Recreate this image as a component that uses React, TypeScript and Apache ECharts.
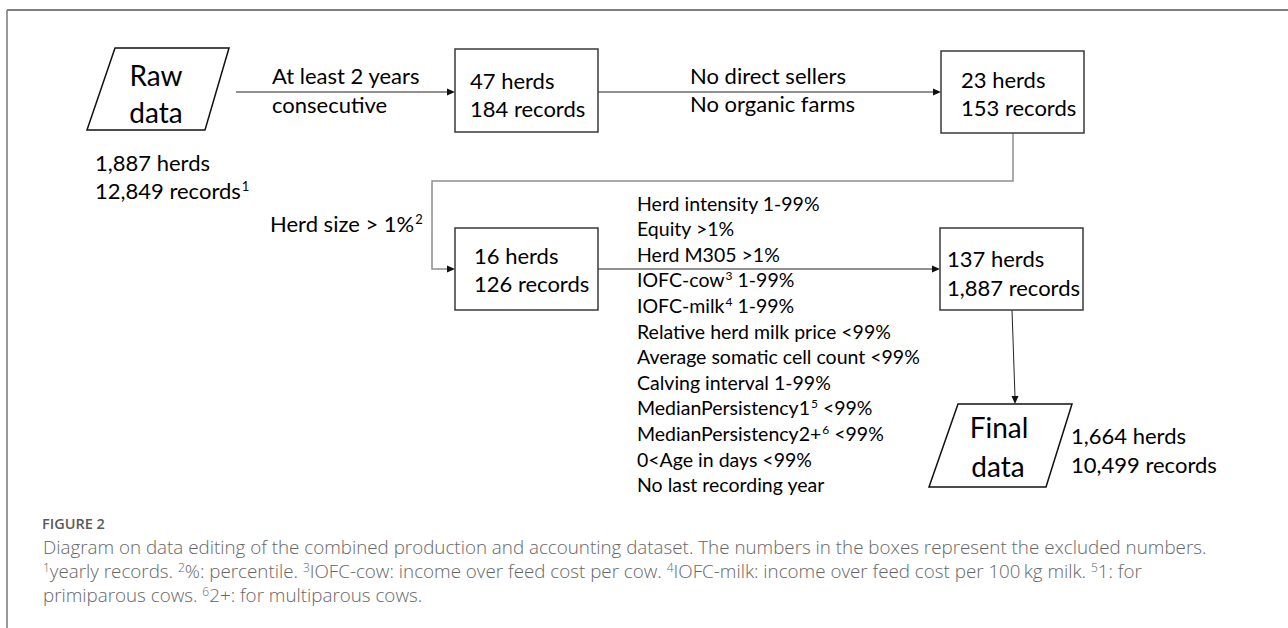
import React, { useEffect, useRef } from "react";
import * as echarts from "echarts";

// ---------- content (data) ----------
const startNode = ["Raw", "data"];
const startCounts = ["1,887 herds", "12,849 records{sup|1}"];
const endNode = ["Final", "data"];
const endCounts = ["1,664 herds", "10,499 records"];
const excludedBoxes = [
  ["47 herds", "184 records"],
  ["23 herds", "153 records"],
  ["16 herds", "126 records"],
  ["137 herds", "1,887 records"],
];
const stepLabels = [
  ["At least 2 years", "consecutive"],
  ["No direct sellers", "No organic farms"],
  ["Herd size > 1%{sup|2}"],
];
const criteria = [
  "Herd intensity 1-99%",
  "Equity >1%",
  "Herd M305 >1%",
  "IOFC-cow{sup|3} 1-99%",
  "IOFC-milk{sup|4} 1-99%",
  "Relative herd milk price <99%",
  "Average somatic cell count <99%",
  "Calving interval 1-99%",
  "MedianPersistency1{sup|5} <99%",
  "MedianPersistency2+{sup|6} <99%",
  "0<Age in days <99%",
  "No last recording year",
];
const captionTitle = "FIGURE 2";
const captionLines = [
  "Diagram on data editing of the combined production and accounting dataset. The numbers in the boxes represent the excluded numbers.",
  "{s|1}yearly records. {s|2}%: percentile. {s|3}IOFC-cow: income over feed cost per cow. {s|4}IOFC-milk: income over feed cost per 100\u2009kg milk. {s|5}1: for",
  "primiparous cows. {s|6}2+: for multiparous cows.",
];

// ---------- layout ----------
const FONT = "Lato, 'Noto Sans', sans-serif";
const CAP_FONT = "'Open Sans', 'Noto Sans', sans-serif";
const boxRects = [
  { x: 455, y: 49, w: 143, h: 83, tx: 470 },
  { x: 941, y: 51, w: 143, h: 82, tx: 961 },
  { x: 455, y: 228, w: 143, h: 82, tx: 474 },
  { x: 940, y: 228, w: 143, h: 82, tx: 947 },
];
const boxTextY = [
  [80, 108],
  [79, 107],
  [255, 283],
  [258, 287],
];
const stepPos = [
  { x: 272, y: [75, 104] },
  { x: 690, y: [75, 103] },
  { x: 270, y: [223] },
];

const supRich = {
  sup: { fontSize: 13, fontFamily: FONT, fill: "#000", verticalAlign: "top" as const, padding: [0, 0, 0, 1] },
};

function txt(text: string, x: number, y: number, size: number, align = "left", extra: any = {}) {
  return {
    type: "text",
    x,
    y,
    style: {
      text,
      fontSize: size,
      fontFamily: FONT,
      fill: "#000",
      align,
      verticalAlign: "middle",
      rich: supRich,
      ...extra,
    },
  };
}

function arrowHead(x: number, y: number, dir: "right" | "down") {
  const L = 8,
    W = 3.5;
  const pts =
    dir === "right"
      ? [
          [x, y],
          [x - L, y - W],
          [x - L, y + W],
        ]
      : [
          [x, y],
          [x - W, y - L],
          [x + W, y - L],
        ];
  return { type: "polygon", shape: { points: pts }, style: { fill: "#111" } };
}

function line(x1: number, y1: number, x2: number, y2: number, stroke = "#222", lw = 1) {
  return { type: "line", shape: { x1, y1, x2, y2 }, style: { stroke, lineWidth: lw } };
}

export default function App() {
  const ref = useRef<HTMLDivElement>(null);
  useEffect(() => {
    document.body.style.margin = "0";
    if (!ref.current) return;
    const chart = echarts.init(ref.current, undefined, { renderer: "svg" });
    const els: any[] = [];

    // outer frame (top & left)
    els.push(line(7, 10, 1288, 10, "#555", 1.5));
    els.push(line(7, 10, 7, 628, "#777", 1.5));

    // start parallelogram
    els.push({
      type: "polygon",
      shape: { points: [[115, 48], [229, 48], [205, 130], [87, 130]] },
      style: { fill: "#fff", stroke: "#111", lineWidth: 1.5 },
    });
    els.push(txt(startNode[0], 156, 75, 28, "center"));
    els.push(txt(startNode[1], 156, 112, 28, "center"));
    els.push(txt(startCounts[0], 95, 162, 22));
    els.push(txt(startCounts[1], 95, 190, 22));

    // end parallelogram
    els.push({
      type: "polygon",
      shape: { points: [[958, 404], [1072, 404], [1046, 487], [929, 487]] },
      style: { fill: "#fff", stroke: "#111", lineWidth: 1.5 },
    });
    els.push(txt(endNode[0], 999, 427, 28, "center"));
    els.push(txt(endNode[1], 998, 466, 28, "center"));
    els.push(txt(endCounts[0], 1071, 435, 22));
    els.push(txt(endCounts[1], 1071, 464, 22));

    // arrows
    els.push(line(236, 92, 450, 92));
    els.push(arrowHead(455, 92, "right"));
    els.push(line(598, 92, 936, 92));
    els.push(arrowHead(941, 92, "right"));
    els.push({
      type: "polyline",
      shape: { points: [[1013, 133], [1013, 181], [432, 181], [432, 269], [450, 269]] },
      style: { stroke: "#8f8f8f", lineWidth: 1.5, fill: null },
    });
    els.push(arrowHead(455, 269, "right"));
    els.push(line(598, 269, 935, 269));
    els.push(arrowHead(940, 269, "right"));
    els.push(line(1012, 310, 1015, 397));
    els.push(arrowHead(1015, 404, "down"));

    // boxes
    excludedBoxes.forEach((b, i) => {
      const r = boxRects[i];
      els.push({
        type: "rect",
        shape: { x: r.x, y: r.y, width: r.w, height: r.h },
        style: { fill: "#fff", stroke: "#3a3a3a", lineWidth: 1.5 },
      });
      els.push(txt(b[0], r.tx, boxTextY[i][0], 22));
      els.push(txt(b[1], r.tx, boxTextY[i][1], 22));
    });

    // step labels
    stepLabels.forEach((s, i) => {
      s.forEach((t, j) => els.push(txt(t, stepPos[i].x, stepPos[i].y[j], 22)));
    });

    // criteria
    criteria.forEach((c, i) => {
      els.push(
        txt(c, 637, 203 + i * 25.6, 19.5, "left", {
          rich: { sup: { fontSize: 12, fontFamily: FONT, fill: "#000", verticalAlign: "top", padding: [0, 0, 0, 1] } },
        })
      );
    });

    // caption
    els.push({
      type: "text",
      x: 42,
      y: 523,
      style: {
        text: captionTitle,
        fontSize: 14.5,
        fontWeight: 600,
        fontFamily: CAP_FONT,
        fill: "#5a5a5a",
        align: "left",
        verticalAlign: "middle",
      },
    });
    captionLines.forEach((l, i) => {
      els.push({
        type: "text",
        x: 43,
        y: 547 + i * 24,
        style: {
          text: l,
          fontSize: 18.8,
          fontWeight: 300,
          fontFamily: CAP_FONT,
          fill: "#666",
          align: "left",
          verticalAlign: "middle",
          rich: {
            s: { fontSize: 12, fontFamily: CAP_FONT, fontWeight: 300, fill: "#666", verticalAlign: "top" },
          },
        },
      });
    });

    chart.setOption({
      animation: false,
      backgroundColor: "#fff",
      graphic: { elements: els },
    });
    return () => chart.dispose();
  }, []);
  return <div ref={ref} style={{ width: 1288, height: 628, position: "absolute", left: 0, top: 0 }} />;
}
